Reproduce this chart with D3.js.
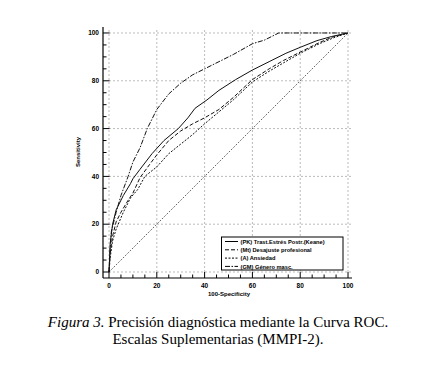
<!DOCTYPE html>
<html>
<head>
<meta charset="utf-8">
<script src="https://cdn.jsdelivr.net/npm/d3@7"></script>
<style>
  body { margin: 0; background: #fff; }
  svg { display: block; }
</style>
</head>
<body>
<div id="chart"></div>
<script>
// ROC curves (x = 100-Specificity, y = Sensitivity)
var pkX = [0, 0.5, 1.5, 3, 6, 9, 10, 13, 18, 23, 29, 33, 36, 41, 46, 53, 60, 67, 74, 80, 87, 93, 100];
var pkY = [0, 12, 20, 26, 32, 37, 39, 43, 49.5, 55, 60, 64.5, 68.5, 72, 76, 80.5, 84.5, 88, 91.5, 94, 96.8, 98.5, 100];

var mtX = [0, 0.5, 1.5, 3, 5, 8, 10, 13, 17, 20, 25, 30, 35, 40, 46, 52, 60, 67, 73, 80, 88, 94, 100];
var mtY = [0, 8, 15, 21, 25, 30, 33, 39.5, 45, 49, 55, 59, 62, 64.5, 68, 73, 80.5, 85, 88.5, 92, 96, 98.5, 100];

var aX = [0, 0.5, 1.5, 3, 6, 9, 12, 15, 20, 25, 30, 35, 40, 46, 52, 60, 67, 73, 80, 88, 94, 100];
var aY = [0, 6, 13, 18, 25, 31, 34.5, 40, 44, 49.5, 53.5, 57.5, 62, 67, 72, 79.5, 84, 87.5, 91.5, 95.5, 98, 100];

var gmX = [0, 0.5, 1, 3, 5, 8, 10, 13, 16, 20, 25, 30, 35, 40, 46, 52, 60, 65, 71, 100];
var gmY = [0, 10, 17, 25, 32, 40, 46, 52, 60, 68, 74.5, 79, 82.5, 85, 88, 91, 95.5, 97, 100, 100];

var refX = [0, 100];
var refY = [0, 100];

var seriesNames = ["(PK) Trast.Estrés Postr.(Keane)", "(Mt) Desajuste profesional", "(A) Ansiedad", "(GM) Género masc."];
var ticks = [0, 20, 40, 60, 80, 100];

var captionItalic = "Figura 3.";
var captionLine1 = " Precisión diagnóstica mediante la Curva ROC.";
var captionLine2 = "Escalas Suplementarias (MMPI-2).";

// #############################################################
// CANVAS
// #############################################################
var W = 447, H = 370;
var svg = d3.select("#chart").append("svg")
    .attr("width", W)
    .attr("height", H);

var xScale = d3.scaleLinear().domain([0, 102]).range([109, 352.8]);
var yScale = d3.scaleLinear().domain([0, 102]).range([272, 28.2]);

// dashed grid
var grid = svg.append("g").attr("stroke", "#aaa").attr("stroke-width", 0.8).attr("stroke-dasharray", "2,2");
ticks.forEach(function(t) {
    grid.append("line")
        .attr("x1", xScale(t)).attr("x2", xScale(t))
        .attr("y1", yScale(0)).attr("y2", yScale(102));
    grid.append("line")
        .attr("x1", xScale(0)).attr("x2", xScale(102))
        .attr("y1", yScale(t)).attr("y2", yScale(t));
});

// axes, offset from the plot like the original
var yAxisX = 103, xAxisY = 278;
var minor = d3.range(0, 101, 5);

var yAx = svg.append("g").attr("transform", "translate(" + yAxisX + ",0)");
yAx.append("line").attr("x1", 0).attr("x2", 0).attr("y1", 27).attr("y2", xAxisY).attr("stroke", "#000").attr("stroke-width", 1.2);
yAx.selectAll(".mn").data(minor).enter().append("line")
    .attr("x1", 0).attr("x2", d => d % 20 === 0 ? 6.5 : 3.5)
    .attr("y1", d => yScale(d)).attr("y2", d => yScale(d))
    .attr("stroke", "#000").attr("stroke-width", 1);
yAx.selectAll(".lb").data(ticks).enter().append("text")
    .attr("x", -4).attr("y", d => yScale(d) + 2.3)
    .attr("text-anchor", "end")
    .attr("font-family", "Liberation Sans, Arial, sans-serif")
    .attr("font-weight", "bold").attr("font-size", 6.5)
    .text(d => d);

var xAx = svg.append("g").attr("transform", "translate(0," + xAxisY + ")");
xAx.append("line").attr("x1", yAxisX).attr("x2", 352).attr("y1", 0).attr("y2", 0).attr("stroke", "#000").attr("stroke-width", 1.2);
xAx.selectAll(".mn").data(minor).enter().append("line")
    .attr("x1", d => xScale(d)).attr("x2", d => xScale(d))
    .attr("y1", 0).attr("y2", d => d % 20 === 0 ? -6 : -3.5)
    .attr("stroke", "#000").attr("stroke-width", 1);
xAx.selectAll(".lb").data(ticks).enter().append("text")
    .attr("x", d => xScale(d)).attr("y", 9.5)
    .attr("text-anchor", "middle")
    .attr("font-family", "Liberation Sans, Arial, sans-serif")
    .attr("font-weight", "bold").attr("font-size", 6.5)
    .text(d => d);

// axis titles
svg.append("text")
    .attr("x", 229).attr("y", 296)
    .attr("text-anchor", "middle")
    .attr("font-family", "Liberation Sans, Arial, sans-serif")
    .attr("font-weight", "bold").attr("font-size", 6)
    .text("100-Specificity");

svg.append("text")
    .attr("transform", "translate(80,152) rotate(-90)")
    .attr("text-anchor", "middle")
    .attr("font-family", "Liberation Sans, Arial, sans-serif")
    .attr("font-weight", "bold").attr("font-size", 6)
    .text("Sensitivity");

// #############################################################
// CURVES
// #############################################################
var line = d3.line().x(d => xScale(d[0])).y(d => yScale(d[1]));
var zip = (xs, ys) => xs.map((x, i) => [x, ys[i]]);

var curves = [
    {pts: zip(refX, refY), dash: "1,1.5", w: 0.9},
    {pts: zip(aX, aY), dash: "2,1.5", w: 1},
    {pts: zip(mtX, mtY), dash: "4,2", w: 1},
    {pts: zip(gmX, gmY), dash: "5,1.5,1.5,1.5", w: 1},
    {pts: zip(pkX, pkY), dash: null, w: 1}
];
curves.forEach(function(c) {
    svg.append("path")
        .attr("d", line(c.pts))
        .attr("fill", "none")
        .attr("stroke", "#111")
        .attr("stroke-width", c.w)
        .attr("stroke-dasharray", c.dash);
});

// #############################################################
// LEGEND
// #############################################################
var legDash = [null, "4,2", "2,1.5", "5,1.5,1.5,1.5"];
var leg = svg.append("g");
leg.append("rect")
    .attr("x", 221.5).attr("y", 237).attr("width", 121.5).attr("height", 33)
    .attr("fill", "#fff").attr("stroke", "#000").attr("stroke-width", 1);
seriesNames.forEach(function(name, i) {
    var yy = 241.5 + i * 8.3;
    leg.append("line")
        .attr("x1", 225).attr("x2", 238)
        .attr("y1", yy).attr("y2", yy)
        .attr("stroke", "#000").attr("stroke-width", 1)
        .attr("stroke-dasharray", legDash[i]);
    leg.append("text")
        .attr("x", 240.5).attr("y", yy + 2.1)
        .attr("font-family", "Liberation Sans, Arial, sans-serif")
        .attr("font-weight", "bold").attr("font-size", 5.7)
        .text(name);
});

// #############################################################
// CAPTION
// #############################################################
var cap1 = svg.append("text")
    .attr("x", 218).attr("y", 327)
    .attr("text-anchor", "middle")
    .attr("font-family", "Liberation Serif, serif")
    .attr("font-size", 15);
cap1.append("tspan").attr("font-style", "italic").text(captionItalic);
cap1.append("tspan").text(captionLine1);

svg.append("text")
    .attr("x", 218).attr("y", 344)
    .attr("text-anchor", "middle")
    .attr("font-family", "Liberation Serif, serif")
    .attr("font-size", 15)
    .text(captionLine2);
</script>
</body>
</html>
